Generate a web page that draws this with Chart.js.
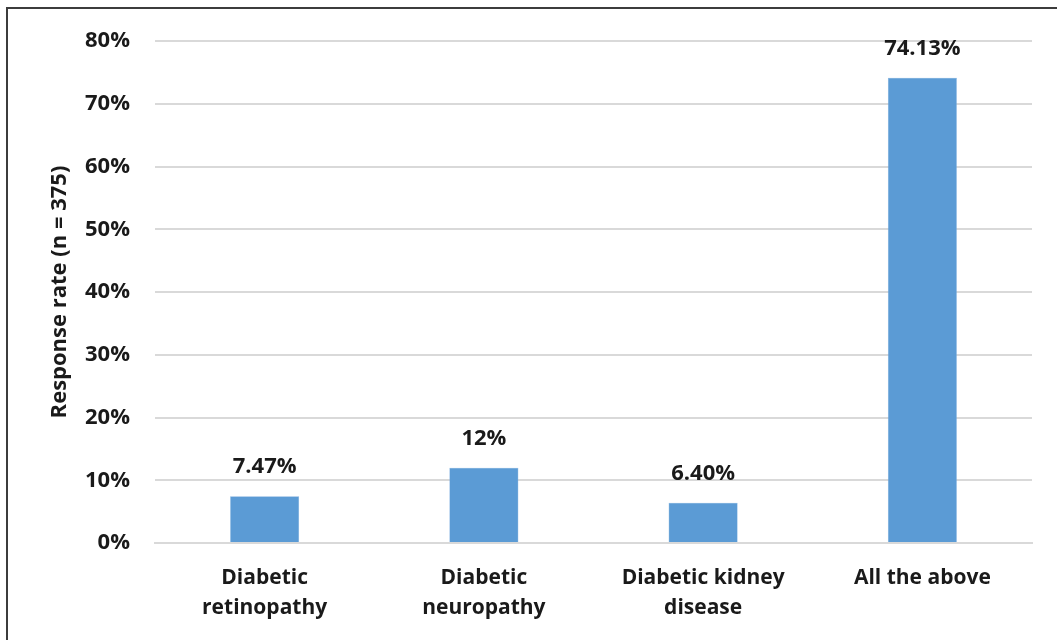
<!DOCTYPE html>
<html>
<head>
<meta charset="utf-8">
<script src="https://cdn.jsdelivr.net/npm/chart.js@4/dist/chart.umd.min.js"></script>
<style>
  html, body { margin: 0; padding: 0; background: #ffffff; }
  #wrap { position: relative; width: 1057px; height: 640px; }
</style>
</head>
<body>
<div id="wrap"><canvas id="c" width="1057" height="640"></canvas></div>
<script>
// Complications known to respondents, share of responses (%)
const categories = [
  ["Diabetic", "retinopathy"],
  ["Diabetic", "neuropathy"],
  ["Diabetic kidney", "disease"],
  "All the above"
];
const responseRate = [7.47, 12, 6.40, 74.13];
const valueLabels = ["7.47%", "12%", "6.40%", "74.13%"];
const yTicks = [0, 10, 20, 30, 40, 50, 60, 70, 80];

const FONT = "'Open Sans', Lato, sans-serif";

// Thin frame around the figure (top and left edges)
const framePlugin = {
  id: 'frame',
  beforeDraw(chart) {
    const ctx = chart.ctx;
    ctx.save();
    ctx.fillStyle = '#3c3c3c';
    ctx.fillRect(6, 7, 2, 633);
    ctx.fillRect(6, 7, 1051, 2);
    ctx.restore();
  }
};

// Value labels above each bar
const valueLabelPlugin = {
  id: 'valueLabels',
  afterDatasetsDraw(chart) {
    const ctx = chart.ctx;
    const meta = chart.getDatasetMeta(0);
    ctx.save();
    ctx.font = "bold 22px " + FONT;
    ctx.fillStyle = '#1a1a1a';
    ctx.textAlign = 'center';
    ctx.textBaseline = 'middle';
    meta.data.forEach((bar, i) => {
      ctx.fillText(valueLabels[i], bar.x, bar.y - 29);
    });
    ctx.restore();
  }
};

new Chart(document.getElementById('c'), {
  type: 'bar',
  data: {
    labels: categories,
    datasets: [{
      data: responseRate,
      backgroundColor: '#5b9bd5',
      borderColor: '#7fb0df',
      borderWidth: 0.5,
      barPercentage: 0.315,
      categoryPercentage: 1.0
    }]
  },
  options: {
    responsive: false,
    animation: false,
    devicePixelRatio: 1,
    layout: { padding: { left: 47, right: 25, top: 41, bottom: 0 } },
    plugins: {
      legend: { display: false },
      tooltip: { enabled: false }
    },
    scales: {
      x: {
        grid: { display: false, drawTicks: false },
        border: { display: true, color: '#d9d9d9', width: 2 },
        ticks: {
          color: '#1a1a1a',
          font: { family: FONT, size: 21, weight: 'bold', lineHeight: 1.43 },
          padding: 20,
          maxRotation: 0,
          autoSkip: false
        },
        afterFit(scale) { scale.height = 97; }
      },
      y: {
        min: 0,
        max: 80,
        afterBuildTicks(scale) { scale.ticks = yTicks.map(v => ({ value: v })); },
        grid: { color: '#d9d9d9', lineWidth: 2, drawTicks: false },
        border: { display: false },
        ticks: {
          color: '#1a1a1a',
          font: { family: FONT, size: 22, weight: 'bold' },
          padding: 25,
          callback: v => v + '%'
        },
        title: {
          display: true,
          text: 'Response rate (n = 375)',
          color: '#1a1a1a',
          font: { family: FONT, size: 22, weight: 'bold' },
          padding: { top: 0, bottom: 0 }
        },
        afterFit(scale) { scale.width = 108; }
      }
    }
  },
  plugins: [framePlugin, valueLabelPlugin]
});
</script>
</body>
</html>
